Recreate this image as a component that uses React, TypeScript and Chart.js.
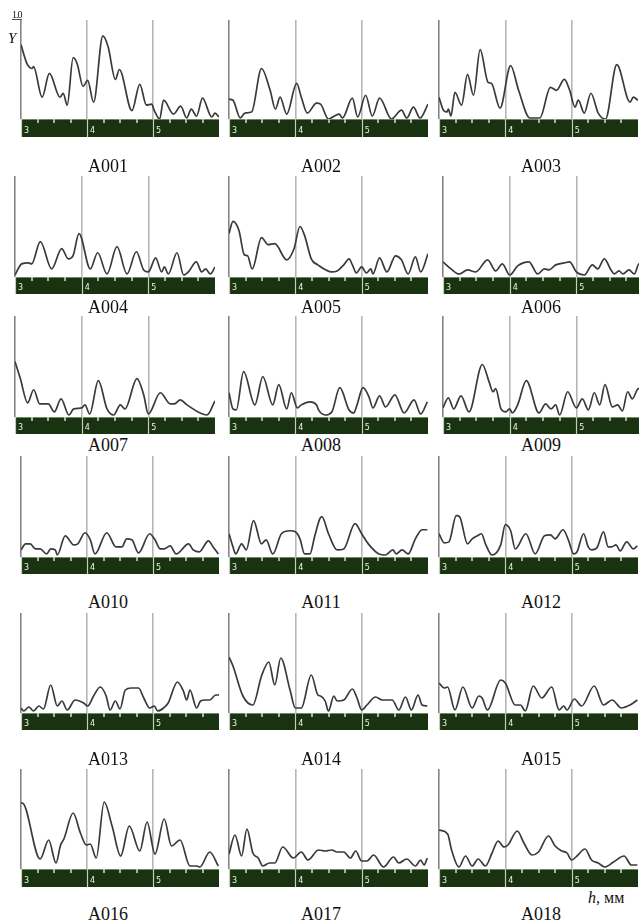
import React, { useEffect, useRef } from "react";
import { Chart, registerables } from "chart.js";

Chart.register(...registerables);

// ---------- axis data ----------
const X_MIN = 3;
const X_MAX = 6;
const Y_MIN = 0;
const Y_MAX = 1;
const MAJOR_TICKS = [3, 4, 5];
const TICK_LABELS = ["3", "4", "5"];
const MINOR_TICKS = [3.25, 3.5, 3.75, 4.25, 4.5, 4.75, 5.25, 5.5, 5.75];
const GRID_VALUES = [4, 5];

const NAMES = [
  "A001", "A002", "A003", "A004", "A005", "A006",
  "A007", "A008", "A009", "A010", "A011", "A012",
  "A013", "A014", "A015", "A016", "A017", "A018",
];

// ---------- series ----------
const A001_X = [3.00,3.09,3.17,3.19,3.32,3.43,3.59,3.64,3.70,3.79,3.85,3.94,4.01,4.10,4.24,4.32,4.43,4.49,4.68,4.80,4.90,4.98,5.02,5.10,5.16,5.31,5.42,5.51,5.58,5.66,5.75,5.89,5.94,6.00];
const A001_Y = [0.75,0.56,0.51,0.53,0.22,0.46,0.22,0.26,0.14,0.62,0.56,0.33,0.39,0.17,0.84,0.73,0.40,0.50,0.085,0.35,0.14,0.15,0.085,0.00,0.19,0.05,0.13,0.01,0.10,0.03,0.21,0.02,0.06,0.02];

const A002_X = [3.00,3.06,3.17,3.24,3.34,3.49,3.62,3.70,3.77,3.87,4.02,4.09,4.18,4.32,4.38,4.50,4.59,4.66,4.71,4.86,4.94,5.06,5.16,5.27,5.45,5.60,5.68,5.78,5.88,6.00];
const A002_Y = [0.20,0.19,0.01,0.06,0.07,0.51,0.29,0.10,0.22,0.05,0.36,0.22,0.06,0.16,0.15,0.00,0.03,0.05,0.01,0.21,0.02,0.24,0.03,0.21,0.00,0.09,0.01,0.12,0.01,0.15];

const A003_X = [3.00,3.07,3.12,3.14,3.18,3.24,3.34,3.43,3.52,3.62,3.74,3.79,3.92,4.08,4.20,4.37,4.52,4.68,4.77,4.89,4.97,5.05,5.10,5.19,5.29,5.40,5.51,5.68,5.88,5.93,6.00];
const A003_Y = [0.22,0.085,0.07,0.10,0.03,0.27,0.14,0.45,0.24,0.70,0.37,0.36,0.11,0.54,0.29,0.01,0.01,0.32,0.29,0.40,0.29,0.12,0.19,0.06,0.26,0.06,0.00,0.55,0.17,0.22,0.19];

const A004_X = [3.00,3.10,3.20,3.25,3.38,3.55,3.70,3.80,3.87,3.96,4.13,4.24,4.38,4.53,4.68,4.82,4.93,5.00,5.11,5.20,5.24,5.30,5.43,5.53,5.60,5.72,5.80,5.86,5.93,6.00];
const A004_Y = [0.02,0.13,0.14,0.13,0.35,0.08,0.28,0.18,0.21,0.43,0.08,0.24,0.03,0.30,0.03,0.25,0.07,0.05,0.19,0.05,0.10,0.03,0.24,0.02,0.05,0.15,0.05,0.08,0.03,0.10];

const A005_X = [3.00,3.06,3.15,3.23,3.28,3.35,3.49,3.59,3.69,3.87,3.98,4.07,4.14,4.24,4.34,4.55,4.63,4.73,4.81,4.86,4.92,5.00,5.07,5.14,5.17,5.27,5.38,5.51,5.60,5.70,5.81,5.89,6.00];
const A005_Y = [0.43,0.55,0.46,0.22,0.21,0.08,0.39,0.32,0.33,0.17,0.28,0.50,0.41,0.18,0.12,0.05,0.06,0.12,0.18,0.12,0.04,0.10,0.04,0.08,0.03,0.19,0.05,0.21,0.17,0.03,0.20,0.05,0.23];

const A006_X = [3.00,3.12,3.24,3.37,3.49,3.67,3.79,3.89,4.00,4.12,4.29,4.42,4.52,4.59,4.69,4.82,4.90,5.00,5.12,5.24,5.32,5.42,5.52,5.57,5.64,5.70,5.79,5.87,5.94,6.00];
const A006_Y = [0.15,0.08,0.03,0.07,0.05,0.17,0.06,0.13,0.02,0.11,0.15,0.03,0.08,0.07,0.12,0.14,0.15,0.05,0.02,0.12,0.08,0.18,0.07,0.03,0.06,0.03,0.07,0.03,0.13,0.10];

const A007_X = [3.00,3.08,3.19,3.28,3.37,3.50,3.59,3.69,3.81,3.88,4.00,4.05,4.12,4.25,4.38,4.48,4.58,4.65,4.83,4.93,5.00,5.18,5.33,5.39,5.48,5.58,5.88,6.00];
const A007_Y = [0.55,0.38,0.14,0.27,0.13,0.13,0.05,0.18,0.02,0.08,0.09,0.12,0.03,0.36,0.08,0.02,0.12,0.08,0.38,0.22,0.03,0.24,0.13,0.13,0.17,0.12,0.02,0.16];

const A008_X = [3.00,3.06,3.11,3.22,3.39,3.51,3.66,3.75,3.87,3.94,4.03,4.09,4.22,4.32,4.35,4.45,4.55,4.67,4.81,4.88,4.93,5.02,5.11,5.17,5.27,5.36,5.50,5.64,5.79,5.89,5.99];
const A008_Y = [0.24,0.08,0.07,0.45,0.12,0.40,0.12,0.32,0.08,0.24,0.09,0.12,0.15,0.12,0.07,0.02,0.05,0.29,0.07,0.04,0.12,0.29,0.20,0.09,0.21,0.10,0.22,0.04,0.17,0.03,0.15];

const A009_X = [3.00,3.08,3.16,3.27,3.39,3.59,3.69,3.75,3.79,3.87,3.94,4.00,4.04,4.12,4.25,4.44,4.54,4.62,4.69,4.75,4.87,5.00,5.09,5.18,5.27,5.35,5.43,5.54,5.62,5.69,5.77,5.84,5.93,6.00];
const A009_Y = [0.09,0.19,0.08,0.21,0.05,0.52,0.35,0.25,0.28,0.08,0.05,0.08,0.04,0.12,0.36,0.04,0.13,0.08,0.12,0.02,0.25,0.09,0.18,0.07,0.24,0.12,0.32,0.10,0.12,0.06,0.25,0.18,0.28,0.22];

const A010_X = [3.00,3.07,3.14,3.22,3.29,3.39,3.45,3.52,3.55,3.67,3.80,3.86,3.97,4.05,4.12,4.30,4.44,4.53,4.60,4.68,4.78,4.95,5.03,5.11,5.17,5.26,5.35,5.54,5.61,5.70,5.84,5.91,5.99];
const A010_Y = [0.07,0.13,0.13,0.08,0.08,0.03,0.08,0.07,0.02,0.21,0.12,0.13,0.24,0.17,0.03,0.24,0.10,0.10,0.18,0.17,0.04,0.23,0.17,0.08,0.08,0.11,0.03,0.13,0.07,0.05,0.16,0.10,0.03];

const A011_X = [3.00,3.06,3.10,3.19,3.26,3.37,3.49,3.56,3.66,3.79,3.92,4.00,4.07,4.14,4.22,4.29,4.37,4.40,4.50,4.63,4.73,4.90,5.00,5.10,5.26,5.36,5.47,5.52,5.61,5.70,5.81,5.91,5.99];
const A011_Y = [0.23,0.10,0.03,0.13,0.07,0.36,0.13,0.17,0.03,0.23,0.26,0.25,0.18,0.03,0.03,0.20,0.38,0.40,0.23,0.07,0.08,0.33,0.23,0.13,0.03,0.02,0.07,0.03,0.07,0.03,0.18,0.27,0.27];

const A012_X = [3.00,3.08,3.15,3.26,3.31,3.43,3.50,3.58,3.64,3.70,3.80,3.93,4.00,4.08,4.15,4.31,4.45,4.59,4.68,4.75,4.87,4.95,5.03,5.08,5.18,5.25,5.30,5.38,5.48,5.55,5.60,5.67,5.73,5.83,5.93,5.99];
const A012_Y = [0.23,0.14,0.15,0.41,0.40,0.13,0.18,0.21,0.23,0.13,0.02,0.12,0.32,0.26,0.08,0.23,0.03,0.21,0.22,0.18,0.27,0.17,0.03,0.05,0.23,0.10,0.07,0.09,0.25,0.10,0.10,0.12,0.06,0.15,0.08,0.11];

const A013_X = [3.00,3.04,3.12,3.19,3.27,3.34,3.45,3.55,3.62,3.70,3.82,3.95,4.01,4.10,4.20,4.29,4.35,4.43,4.50,4.58,4.67,4.78,4.86,4.95,5.02,5.07,5.16,5.23,5.37,5.46,5.51,5.56,5.66,5.72,5.79,5.86,5.95,6.00];
const A013_Y = [0.05,0.02,0.06,0.02,0.07,0.04,0.28,0.07,0.12,0.03,0.13,0.10,0.07,0.17,0.26,0.17,0.03,0.12,0.04,0.23,0.25,0.25,0.15,0.05,0.07,0.02,0.05,0.10,0.31,0.22,0.13,0.23,0.05,0.12,0.13,0.13,0.18,0.18];

const A014_X = [3.00,3.06,3.21,3.36,3.49,3.60,3.69,3.78,3.92,4.00,4.09,4.24,4.34,4.38,4.45,4.50,4.58,4.63,4.73,4.86,4.93,5.00,5.08,5.21,5.31,5.46,5.56,5.66,5.75,5.85,5.91,5.99];
const A014_Y = [0.56,0.47,0.17,0.08,0.37,0.51,0.28,0.55,0.23,0.05,0.05,0.38,0.18,0.17,0.12,0.02,0.17,0.12,0.13,0.24,0.15,0.03,0.08,0.16,0.13,0.13,0.03,0.16,0.03,0.18,0.08,0.07];

const A015_X = [3.00,3.08,3.13,3.24,3.36,3.50,3.60,3.65,3.73,3.93,4.00,4.15,4.23,4.30,4.42,4.55,4.70,4.81,4.88,4.93,5.04,5.15,5.34,5.48,5.61,5.75,5.88,5.99];
const A015_Y = [0.30,0.25,0.26,0.03,0.26,0.05,0.17,0.15,0.03,0.33,0.30,0.08,0.08,0.02,0.27,0.15,0.26,0.03,0.07,0.03,0.14,0.07,0.27,0.08,0.13,0.05,0.08,0.13];

const A016_X = [3.00,3.02,3.29,3.42,3.53,3.60,3.65,3.79,3.90,3.99,4.05,4.14,4.26,4.38,4.51,4.64,4.80,4.91,5.03,5.17,5.28,5.41,5.56,5.66,5.71,5.86,5.99];
const A016_Y = [0.66,0.66,0.10,0.29,0.06,0.24,0.30,0.56,0.36,0.24,0.25,0.11,0.67,0.43,0.13,0.43,0.18,0.47,0.15,0.50,0.23,0.29,0.03,0.03,0.02,0.17,0.03];

const A017_X = [3.00,3.09,3.19,3.27,3.36,3.44,3.51,3.61,3.69,3.81,3.97,4.09,4.19,4.35,4.45,4.55,4.63,4.73,4.83,4.91,5.00,5.08,5.18,5.33,5.48,5.56,5.68,5.81,5.89,5.94,5.99];
const A017_Y = [0.15,0.34,0.13,0.40,0.16,0.11,0.03,0.06,0.06,0.22,0.11,0.17,0.09,0.19,0.18,0.19,0.17,0.17,0.11,0.18,0.08,0.08,0.14,0.02,0.12,0.06,0.10,0.03,0.09,0.04,0.11];

const A018_X = [3.00,3.13,3.19,3.30,3.40,3.50,3.59,3.70,3.80,3.89,3.98,4.04,4.18,4.28,4.40,4.50,4.65,4.75,4.85,4.93,5.00,5.08,5.20,5.30,5.40,5.50,5.63,5.79,5.90,5.99];
const A018_Y = [0.39,0.35,0.19,0.02,0.13,0.03,0.10,0.03,0.16,0.28,0.22,0.24,0.38,0.26,0.14,0.17,0.33,0.23,0.18,0.16,0.09,0.13,0.20,0.09,0.06,0.02,0.07,0.13,0.04,0.04];

const SERIES: number[][][] = [
  [A001_X, A001_Y], [A002_X, A002_Y], [A003_X, A003_Y],
  [A004_X, A004_Y], [A005_X, A005_Y], [A006_X, A006_Y],
  [A007_X, A007_Y], [A008_X, A008_Y], [A009_X, A009_Y],
  [A010_X, A010_Y], [A011_X, A011_Y], [A012_X, A012_Y],
  [A013_X, A013_Y], [A014_X, A014_Y], [A015_X, A015_Y],
  [A016_X, A016_Y], [A017_X, A017_Y], [A018_X, A018_Y],
];

// ---------- layout (pixels) ----------
const ROWS = [
  { top: 20, plotH: 99, barH: 18, lefts: [21, 229, 439], widths: [198, 199, 199], labelY: 166 },
  { top: 176, plotH: 101, barH: 17, lefts: [15, 229, 443], widths: [200, 199, 200], labelY: 307 },
  { top: 316, plotH: 101, barH: 17, lefts: [15, 229, 443], widths: [200, 199, 200], labelY: 445 },
  { top: 456, plotH: 101, barH: 17, lefts: [21, 229, 439], widths: [198, 199, 199], labelY: 602 },
  { top: 613, plotH: 100, barH: 17, lefts: [21, 229, 439], widths: [198, 199, 199], labelY: 759 },
  { top: 769, plotH: 100, barH: 18, lefts: [21, 229, 439], widths: [198, 199, 199], labelY: 914 },
];
const LABEL_CX = [108, 321, 541];
const PAD_L = 2;
const PAD_T = 1;

const SERIF = '"Liberation Serif", "Times New Roman", serif';

const barPlugin = {
  id: "greenBar",
  afterDraw(chart: any) {
    const xs = chart.scales.x;
    const ctx = chart.ctx;
    const top = xs.top;
    const bottom = xs.bottom;
    const h = bottom - top;
    ctx.save();
    ctx.strokeStyle = "#6d8763";
    ctx.lineWidth = 1;
    ctx.beginPath();
    ctx.moveTo(xs.left, top + 0.5);
    ctx.lineTo(xs.right, top + 0.5);
    ctx.stroke();

    ctx.strokeStyle = "#d3dfca";
    ctx.lineWidth = 1.5;
    ctx.beginPath();
    for (const v of MINOR_TICKS) {
      const px = Math.round(xs.getPixelForValue(v));
      ctx.moveTo(px, top);
      ctx.lineTo(px, top + 4);
    }
    ctx.stroke();

    ctx.strokeStyle = "#c2cfba";
    ctx.lineWidth = 1.2;
    ctx.beginPath();
    for (const v of MAJOR_TICKS) {
      const px = Math.round(xs.getPixelForValue(v)) + 0.5;
      ctx.moveTo(px, top);
      ctx.lineTo(px, bottom);
    }
    ctx.stroke();

    ctx.fillStyle = "#eef3ea";
    ctx.font = '8px "DejaVu Sans", sans-serif';
    ctx.textBaseline = "middle";
    ctx.textAlign = "left";
    MAJOR_TICKS.forEach((v, i) => {
      const px = xs.getPixelForValue(v);
      ctx.fillText(TICK_LABELS[i], px + 3, top + h * 0.66);
    });
    ctx.restore();
  },
};

function Panel({ index }: { index: number }) {
  const ref = useRef<HTMLCanvasElement | null>(null);
  const row = ROWS[Math.floor(index / 3)];
  const col = index % 3;
  const left = row.lefts[col];
  const width = row.widths[col];
  const [xsArr, ysArr] = SERIES[index];

  useEffect(() => {
    if (!ref.current) return;
    const chart = new Chart(ref.current, {
      type: "line",
      data: {
        datasets: [
          {
            data: xsArr.map((x, i) => ({ x, y: ysArr[i] })),
            borderColor: "#3a3a3a",
            borderWidth: 1.7,
            pointRadius: 0,
            fill: false,
            cubicInterpolationMode: "monotone",
          },
        ],
      },
      options: {
        animation: false,
        responsive: false,
        maintainAspectRatio: false,
        devicePixelRatio: 1,
        events: [],
        layout: { padding: { left: PAD_L, top: PAD_T, right: 0, bottom: 0 } },
        plugins: { legend: { display: false }, tooltip: { enabled: false } },
        scales: {
          x: {
            type: "linear",
            min: X_MIN,
            max: X_MAX,
            backgroundColor: "#19320f",
            border: { display: false },
            grid: {
              drawOnChartArea: true,
              drawTicks: false,
              color: (c: any) =>
                c.tick && c.tick.value === X_MIN
                  ? "#8c8088"
                  : c.tick && GRID_VALUES.includes(c.tick.value)
                  ? "#b6b6b6"
                  : "rgba(0,0,0,0)",
              lineWidth: 1.6,
            },
            ticks: { display: false, stepSize: 1 },
            afterFit: (s: any) => {
              s.height = row.barH;
            },
          },
          y: { display: false, min: Y_MIN, max: Y_MAX },
        },
      } as any,
      plugins: [barPlugin],
    });
    return () => chart.destroy();
  }, []);

  return (
    <canvas
      ref={ref}
      width={width + PAD_L}
      height={row.plotH + row.barH + PAD_T}
      style={{
        position: "absolute",
        left: left - PAD_L,
        top: row.top - PAD_T,
        width: width + PAD_L,
        height: row.plotH + row.barH + PAD_T,
      }}
    />
  );
}

export default function App() {
  return (
    <div
      style={{
        position: "absolute",
        left: 0,
        top: 0,
        width: 639,
        height: 924,
        overflow: "hidden",
        background: "#ffffff",
        fontFamily: SERIF,
        color: "#111",
      }}
    >
      {NAMES.map((_, i) => (
        <Panel key={i} index={i} />
      ))}
      {NAMES.map((name, i) => {
        const row = ROWS[Math.floor(i / 3)];
        return (
          <div
            key={"l" + i}
            style={{
              position: "absolute",
              left: LABEL_CX[i % 3] - 40,
              top: row.labelY - 10,
              width: 80,
              height: 20,
              lineHeight: "20px",
              fontSize: 18,
              textAlign: "center",
              whiteSpace: "nowrap",
            }}
          >
            {name}
          </div>
        );
      })}
      <div
        style={{
          position: "absolute",
          left: 12,
          top: 10,
          fontSize: 10,
          lineHeight: "10px",
          letterSpacing: "-1px",
          whiteSpace: "nowrap",
        }}
      >
        1.0
      </div>
      <div style={{ position: "absolute", left: 12, top: 19, width: 10, height: 1, background: "#555" }} />
      <div
        style={{
          position: "absolute",
          left: 8,
          top: 30,
          fontSize: 15,
          lineHeight: "16px",
          fontStyle: "italic",
        }}
      >
        Y
      </div>
      <div
        style={{
          position: "absolute",
          left: 588,
          top: 889,
          fontSize: 16,
          lineHeight: "18px",
          whiteSpace: "nowrap",
        }}
      >
        <i>h</i>, мм
      </div>
    </div>
  );
}
